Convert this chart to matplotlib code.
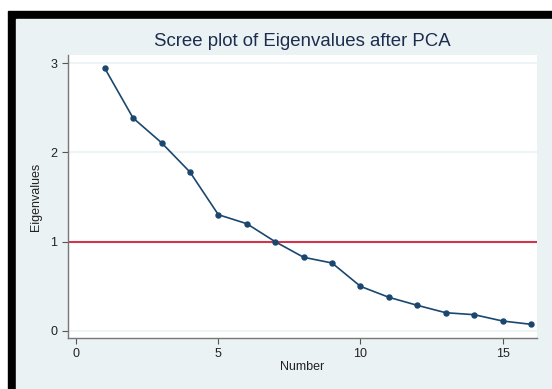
import matplotlib
matplotlib.use("Agg")
import matplotlib.pyplot as plt
from matplotlib.patches import Rectangle

# eigenvalues
numbers = list(range(1, 17))
eigenvalues = [2.948, 2.387, 2.110, 1.781, 1.302, 1.201, 0.999, 0.824,
               0.760, 0.498, 0.375, 0.285, 0.202, 0.180, 0.109, 0.072]
x_ticks = [0, 5, 10, 15]
y_ticks = [0, 1, 2, 3]

bg = '#EAF2F3'
navy = '#1A476F'

plt.rcParams['font.family'] = ['Liberation Sans', 'DejaVu Sans']

fig = plt.figure(figsize=(5.52, 3.89), dpi=100)
fig.patch.set_facecolor('white')

# black frame on top and left, light blue graph region
fig.patches.append(Rectangle((8 / 552, 0), 1, 1 - 11 / 389,
                             transform=fig.transFigure, color='black', zorder=-2))
fig.patches.append(Rectangle((16 / 552, 0), 1, 1 - 19 / 389,
                             transform=fig.transFigure, color=bg, zorder=-1))

ax = fig.add_axes([67.7 / 552, 1 - 338.3 / 389, (536.7 - 67.7) / 552, (338.3 - 55) / 389])
ax.set_facecolor('white')

for y in [0, 2, 3]:
    ax.axhline(y, color=bg, lw=1.2, zorder=1)
ax.axhline(1, color='#D0354B', lw=1.5, zorder=2)

ax.plot(numbers, eigenvalues, color=navy, lw=1.2, marker='o', markersize=3.6,
        zorder=3)

ax.set_xlim(-0.3, 16.2)
ax.set_ylim(-0.085, 3.094)
ax.set_xticks(x_ticks)
ax.set_yticks(y_ticks)

for s in ['top', 'right']:
    ax.spines[s].set_visible(False)
for s in ['left', 'bottom']:
    ax.spines[s].set_color('#777777')
    ax.spines[s].set_linewidth(1.0)

ax.tick_params(axis='both', length=4, width=0.8, color='#555555',
               labelsize=9, labelcolor='#222222')
ax.tick_params(axis='x', pad=3)

ax.set_xlabel('Number', fontsize=9, color='#222222', labelpad=1)
ax.set_ylabel('Eigenvalues', fontsize=9, color='#222222', labelpad=6)

fig.text(302 / 552, 1 - 42 / 389, 'Scree plot of Eigenvalues after PCA',
         ha='center', va='center', fontsize=13.4, color='#1E2D4F')

fig.savefig('out.png', dpi=100, facecolor=fig.get_facecolor())
